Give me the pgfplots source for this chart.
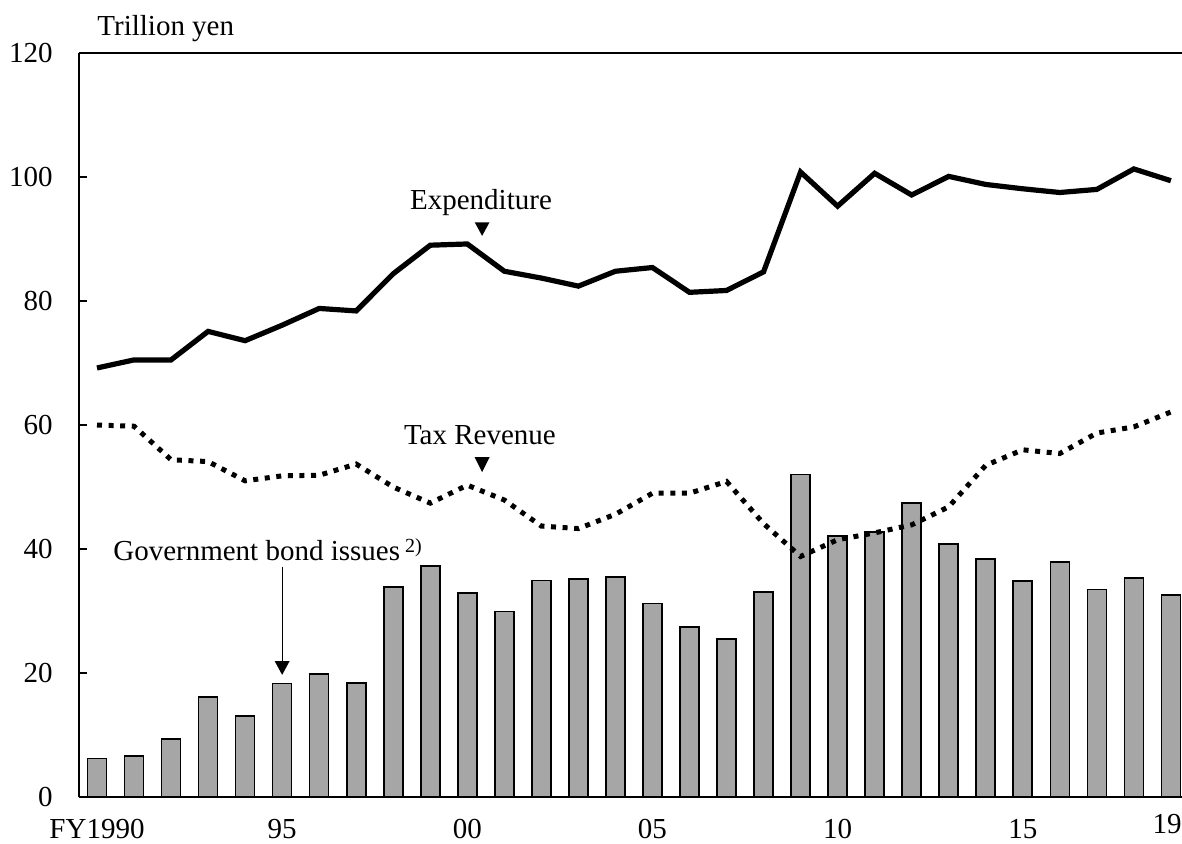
\documentclass[border=0pt]{standalone}
\usepackage{fontspec}
\setmainfont{Liberation Serif}
\usepackage{pgfplots}
\pgfplotsset{compat=1.18}
\definecolor{bargray}{RGB}{166,166,166}

\begin{document}
\fontsize{14.5}{17}\selectfont
\begin{tikzpicture}
\begin{axis}[
    at={(0,0)}, anchor=south west,
    scale only axis,
    width=551.5pt, height=372pt,
    xmin=1989.514, xmax=2019.30,
    ymin=0, ymax=120,
    ytick={0,20,...,120},
    xtick={1990,1995,2000,2005,2010,2015},
    xticklabels={FY1990,95,00,05,10,15},
    axis x line*=bottom, axis y line*=left,
    axis line style={-, line width=1pt},
    tick align=inside,
    major tick length=4pt,
    major y tick style={line width=0.8pt, black},
    major x tick style={draw=none},
    yticklabel style={anchor=east, inner sep=0pt, xshift=-13pt},
    xticklabel style={anchor=north, inner sep=0pt, yshift=-11pt},
    /pgf/number format/assume math mode=true,
    tick label style={font=\fontsize{14.5}{17}\selectfont},
    clip=false,
]
% government bond issues
\addplot[ybar, bar width=9.5pt, fill=bargray, draw=black, line width=0.8pt]
    coordinates {(1990,6.2) (1991,6.6) (1992,9.4) (1993,16.1) (1994,13.1)
    (1995,18.3) (1996,19.8) (1997,18.4) (1998,33.9) (1999,37.3)
    (2000,32.9) (2001,29.9) (2002,34.9) (2003,35.2) (2004,35.5)
    (2005,31.2) (2006,27.4) (2007,25.5) (2008,33.1) (2009,52.0)
    (2010,42.1) (2011,42.7) (2012,47.4) (2013,40.8) (2014,38.4)
    (2015,34.8) (2016,37.9) (2017,33.5) (2018,35.3) (2019,32.6)};
% expenditure
\addplot[black, line width=2.6pt]
    coordinates {(1990,69.2) (1991,70.5) (1992,70.5) (1993,75.1) (1994,73.6)
    (1995,76.1) (1996,78.8) (1997,78.4) (1998,84.4) (1999,89.0)
    (2000,89.2) (2001,84.8) (2002,83.7) (2003,82.4) (2004,84.8)
    (2005,85.4) (2006,81.4) (2007,81.7) (2008,84.7) (2009,100.8)
    (2010,95.3) (2011,100.6) (2012,97.1) (2013,100.1) (2014,98.8)
    (2015,98.1) (2016,97.5) (2017,98.0) (2018,101.3) (2019,99.4)};
% tax revenue
\addplot[black, line width=2.5pt, line cap=butt, dash pattern=on 2.5pt off 3.3pt]
    coordinates {(1990,60.0) (1991,59.8) (1992,54.4) (1993,54.1) (1994,51.0)
    (1995,51.8) (1996,51.9) (1997,53.7) (1998,50.0) (1999,47.4)
    (2000,50.3) (2001,47.9) (2002,43.7) (2003,43.3) (2004,45.6)
    (2005,49.0) (2006,49.0) (2007,50.9) (2008,44.1) (2009,38.8)
    (2010,41.5) (2011,42.6) (2012,43.9) (2013,46.8) (2014,53.5)
    (2015,56.0) (2016,55.4) (2017,58.7) (2018,59.7) (2019,62.1)};

% frame top
\draw[line width=1pt] (rel axis cs:0,1) -- (rel axis cs:1,1);
\node[anchor=base west, inner sep=0pt, xshift=9pt, yshift=9pt] at (rel axis cs:0,1) {Trillion yen};
\node[anchor=north east, inner sep=0pt, yshift=-8.5pt] at (rel axis cs:1,0) {19};

% annotations
\node[anchor=base, inner sep=0pt] at (axis cs:2000.37,94.8) {Expenditure};
\fill (axis cs:2000.2,92.7) -- (axis cs:2000.6,92.7) -- (axis cs:2000.4,90.5) -- cycle;
\node[anchor=base, inner sep=0pt] at (axis cs:2000.34,56.8) {Tax Revenue};
\fill (axis cs:2000.2,54.8) -- (axis cs:2000.6,54.8) -- (axis cs:2000.4,52.4) -- cycle;
\node[anchor=base west, inner sep=0pt] at (axis cs:1990.43,38.1)
    {Government bond issues\hspace{2.5pt}\raisebox{4pt}{\fontsize{10}{11}\selectfont 2)}};
\draw[line width=0.6pt] (axis cs:1995,37.1) -- (axis cs:1995,21.7);
\fill (axis cs:1994.8,21.9) -- (axis cs:1995.2,21.9) -- (axis cs:1995,19.7) -- cycle;
\end{axis}
\pgfresetboundingbox
\path[use as bounding box] (-39.5pt,-23pt) rectangle (551.5pt,398.5pt);
\end{tikzpicture}
\end{document}
